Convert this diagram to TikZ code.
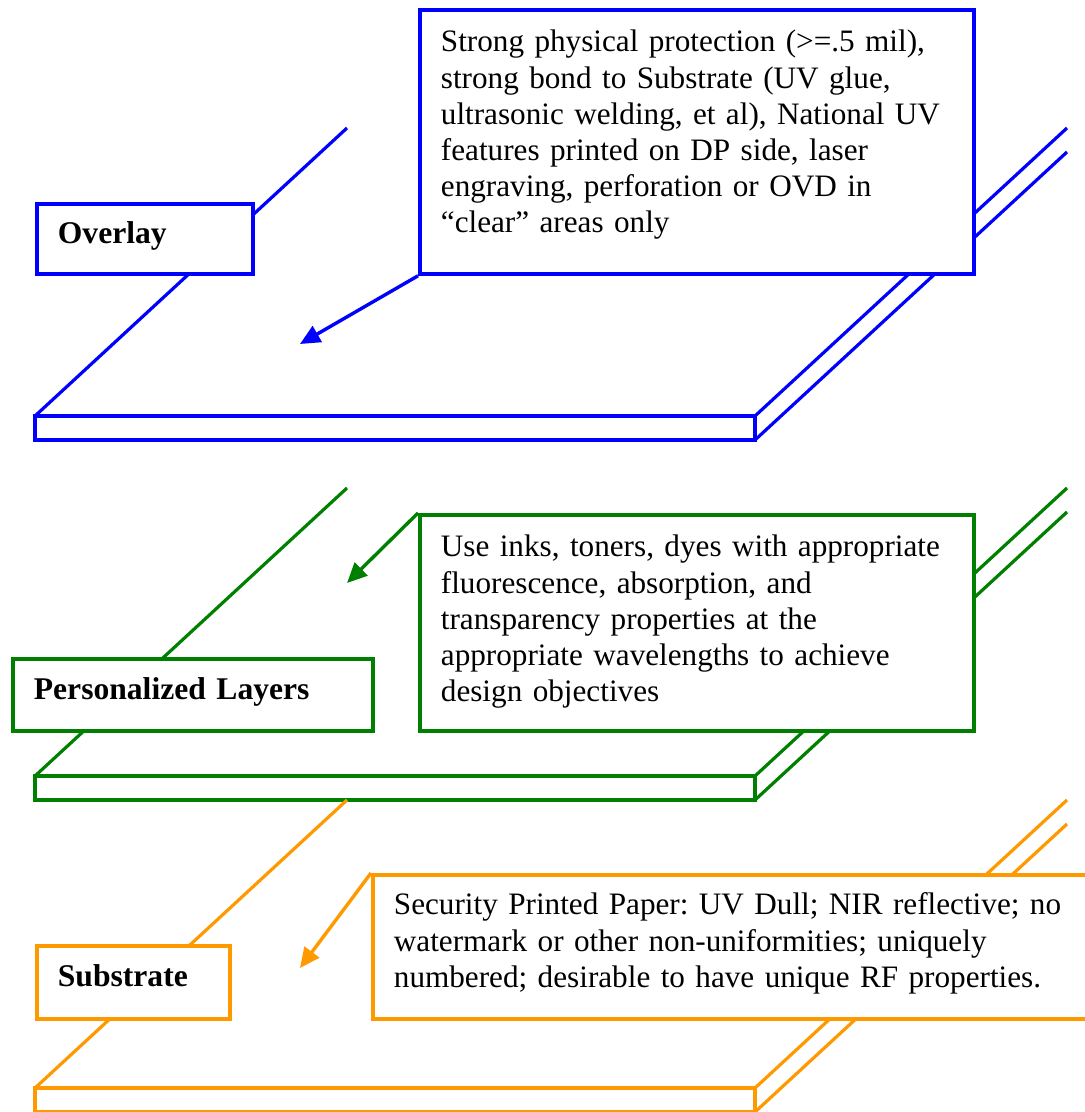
\documentclass[tikz,border=0pt]{standalone}
\usepackage{fontspec}
\setmainfont{Liberation Serif}
\usepackage{xcolor}
\usetikzlibrary{arrows.meta}
\definecolor{ovlblue}{RGB}{0,0,255}
\definecolor{persgreen}{RGB}{0,128,0}
\definecolor{suborange}{RGB}{255,153,0}
\frenchspacing

\begin{document}
\begin{tikzpicture}[
    x=0.5pt, y=-0.5pt,
    slabline/.style={line width=1.6pt},
    labelbox/.style={draw=#1, fill=white, text=black, line width=1.9pt, anchor=north west, align=left,
        font=\fontsize{15.8}{18}\selectfont\bfseries, inner xsep=10.5pt, inner ysep=0pt},
    notebox/.style={draw=#1, fill=white, text=black, line width=1.9pt, anchor=north west, align=left,
        font=\fontsize{15.6}{18.1}\selectfont, inner xsep=10.5pt, inner ysep=0pt},
    pointer/.style={line width=1.7pt, -{Triangle[length=10pt,width=9pt]}}
]
    \useasboundingbox (0,0) rectangle (1085,1112);
    % the three sheets: front edge and the edges running back
    \foreach \y/\col in {416/ovlblue, 776/persgreen, 1088/suborange} {
        \draw[slabline, \col] (35,\y) rectangle (755,\y+24);
        \draw[slabline, \col] (35,\y) -- ++(312,-288);
        \draw[slabline, \col] (755,\y) -- ++(312,-288);
        \draw[slabline, \col] (755,\y+24) -- ++(312,-288);
    }

    % labels
    \node[labelbox=ovlblue, text width=87pt, text height=20pt, text depth=15pt] (overlay) at (35,202) {Overlay};
    \node[labelbox=persgreen, text width=159pt, text height=20.5pt, text depth=15.5pt] (personal) at (11,657) {Personalized Layers};
    \node[labelbox=suborange, text width=75.5pt, text height=20.5pt, text depth=16pt] (substrate) at (35,944) {Substrate};

    % notes
    \node[notebox=ovlblue, text width=256pt, text height=21pt, text depth=111pt] (overlaynote) at (418,8)
        {Strong physical protection (>=.5 mil),\\ strong bond to Substrate (UV glue,\\ ultrasonic welding, et al), National UV\\ features printed on DP side, laser\\ engraving, perforation or OVD in\\ “clear” areas only};
    \node[notebox=persgreen, text width=256pt, text height=21pt, text depth=87pt] (personalnote) at (418,513)
        {Use inks, toners, dyes with appropriate\\ fluorescence, absorption, and\\ transparency properties at the\\ appropriate wavelengths to achieve\\ design objectives};
    \node[notebox=suborange, text width=354.5pt, text height=20pt, text depth=52pt] (substratenote) at (371,873)
        {Security Printed Paper: UV Dull; NIR reflective; no\\ watermark or other non-uniformities; uniquely\\ numbered; desirable to have unique RF properties.};

    % pointers onto the sheets
    \coordinate (overlaytip) at (300,344);
    \coordinate (personaltip) at (347,583);
    \coordinate (substratetip) at (300,968);
    \draw[pointer, ovlblue] (overlaynote.south west) -- (overlaytip);
    \draw[pointer, persgreen] (personalnote.north west) -- (personaltip);
    \draw[pointer, suborange] (substratenote.north west) -- (substratetip);
\end{tikzpicture}
\end{document}
